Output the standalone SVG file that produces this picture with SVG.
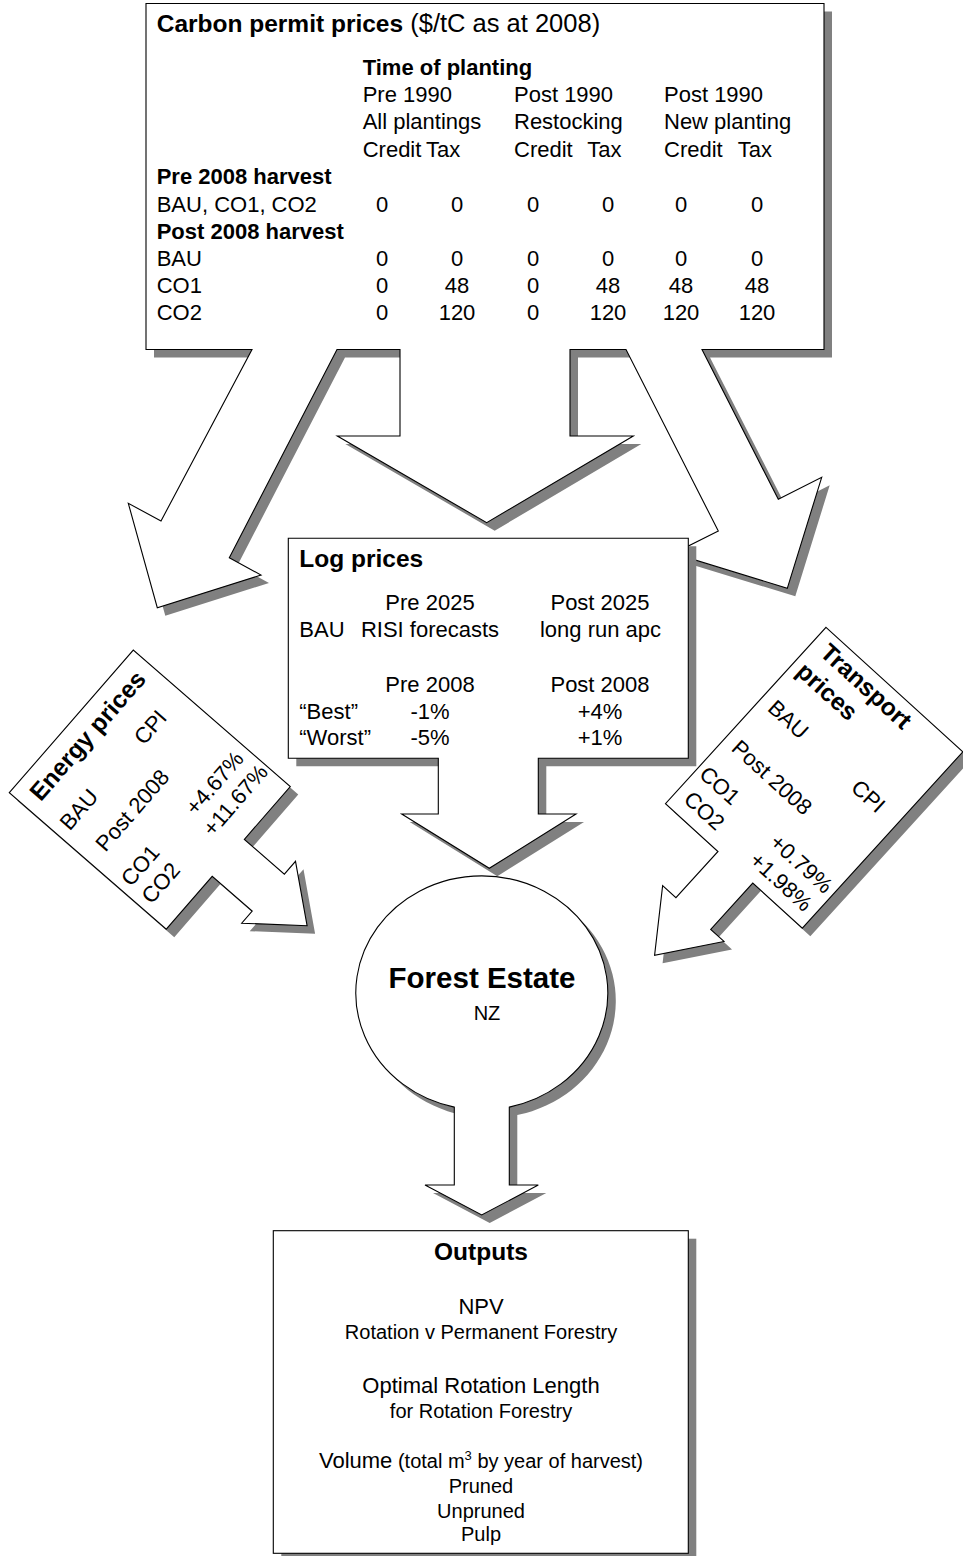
<svg xmlns="http://www.w3.org/2000/svg" width="963" height="1556" viewBox="0 0 963 1556">
<defs>
<style>
.sh{fill:#808080;stroke:none}
.bx{fill:#fff;stroke:#000;stroke-width:1.1;stroke-linejoin:miter}
text{font-family:"Liberation Sans",Arial,Helvetica,sans-serif;fill:#000;font-size:22px}
.h{font-size:24.5px;font-weight:bold}
.fe{font-size:29.5px;font-weight:bold}
.b{font-weight:bold}
.m{text-anchor:middle}
.s{font-size:20px}
</style>
<path id="carbonShape" d="M146,3.5 H824 V349.5 H702 L778.3,499.3 L821.7,477.3 L787.3,588.3 L673.5,553.4 L718.3,531 L626,349.5 H570 V436 H633.3 L486.7,522.7 L337.3,436 H400 V349.5 H337 L229.3,557.7 L261,575 L157.3,607.7 L128.3,503.3 L161,521 L252,349.5 H146 Z"/>
<path id="energyShape" d="M0,0 H189 V208 H119 V261 H136 L95,312 L54,261 H70 V208 H0 Z"/>
<path id="transportShape" d="M0,0 H185 V238.5 H118 V301 H136 L94,358 L53,301 H71 V238.5 H0 Z"/>
<path id="logShape" d="M288.3,538.3 H688.3 V758.3 H538.3 V814 H576 L489.3,868.3 L401.7,814 H438.3 V758.3 H288.3 Z"/>
<path id="forestShape" d="M454.3,1107.1 A126,117 0 1 1 509.3,1107.1 V1185 H538.3 L481.7,1215 L425,1185 H454.3 Z"/>
</defs>

<g id="carbon">
<use href="#carbonShape" class="sh" transform="translate(8,8)"/>
<use href="#carbonShape" class="bx"/>
<text x="156.7" y="32"><tspan class="h">Carbon permit prices</tspan><tspan font-size="25.5"> ($/tC as at 2008)</tspan></text>
<text x="362.7" y="75" class="b">Time of planting</text>
<text x="362.7" y="102">Pre 1990</text>
<text x="514" y="102">Post 1990</text>
<text x="664" y="102">Post 1990</text>
<text x="362.7" y="129">All plantings</text>
<text x="514" y="129">Restocking</text>
<text x="664" y="129">New planting</text>
<text x="362.7" y="157">Credit</text>
<text x="426" y="157">Tax</text>
<text x="514" y="157">Credit</text>
<text x="587.3" y="157">Tax</text>
<text x="664" y="157">Credit</text>
<text x="737.7" y="157">Tax</text>
<text x="156.7" y="184" class="b">Pre 2008 harvest</text>
<text x="156.7" y="212">BAU, CO1, CO2</text>
<text x="382" y="212" class="m">0</text>
<text x="457" y="212" class="m">0</text>
<text x="533" y="212" class="m">0</text>
<text x="608" y="212" class="m">0</text>
<text x="681" y="212" class="m">0</text>
<text x="757" y="212" class="m">0</text>
<text x="156.7" y="239" class="b">Post 2008 harvest</text>
<text x="156.7" y="266">BAU</text>
<text x="382" y="266" class="m">0</text>
<text x="457" y="266" class="m">0</text>
<text x="533" y="266" class="m">0</text>
<text x="608" y="266" class="m">0</text>
<text x="681" y="266" class="m">0</text>
<text x="757" y="266" class="m">0</text>
<text x="156.7" y="293">CO1</text>
<text x="382" y="293" class="m">0</text>
<text x="457" y="293" class="m">48</text>
<text x="533" y="293" class="m">0</text>
<text x="608" y="293" class="m">48</text>
<text x="681" y="293" class="m">48</text>
<text x="757" y="293" class="m">48</text>
<text x="156.7" y="320">CO2</text>
<text x="382" y="320" class="m">0</text>
<text x="457" y="320" class="m">120</text>
<text x="533" y="320" class="m">0</text>
<text x="608" y="320" class="m">120</text>
<text x="681" y="320" class="m">120</text>
<text x="757" y="320" class="m">120</text>
</g>

<g id="energy">
<use href="#energyShape" class="sh" transform="translate(17.3,800.7) rotate(-49)"/>
<g transform="translate(9.3,792.7) rotate(-49)">
<use href="#energyShape" class="bx"/>
<text x="94.5" y="30" class="h m">Energy prices</text>
<text x="33" y="71" class="m">BAU</text>
<text x="142" y="71" class="m">CPI</text>
<text x="67.5" y="112" class="m">Post 2008</text>
<text x="31" y="154" class="m">CO1</text>
<text x="142" y="156" class="m">+4.67%</text>
<text x="31.3" y="181" class="m">CO2</text>
<text x="142.5" y="183" class="m">+11.67%</text>
</g>
</g>

<g id="transport">
<use href="#transportShape" class="sh" transform="translate(834,635.3) rotate(42.3)"/>
<g transform="translate(826,627.3) rotate(42.3)">
<use href="#transportShape" class="bx"/>
<text x="13" y="25" class="h">Transport</text>
<text x="8" y="55" class="h">prices</text>
<text x="34" y="101" class="m">BAU</text>
<text x="145" y="104" class="m">CPI</text>
<text x="61" y="155" class="m">Post 2008</text>
<text x="28" y="196" class="m">CO1</text>
<text x="141" y="199" class="m">+0.79%</text>
<text x="33.5" y="225" class="m">CO2</text>
<text x="138" y="226" class="m">+1.98%</text>
</g>
</g>

<g id="log-prices">
<use href="#logShape" class="sh" transform="translate(8,8)"/>
<use href="#logShape" class="bx"/>
<text x="299.3" y="567" class="h">Log prices</text>
<text x="430" y="610" class="m">Pre 2025</text>
<text x="600" y="610" class="m">Post 2025</text>
<text x="299.3" y="637">BAU</text>
<text x="430" y="637" class="m">RISI forecasts</text>
<text x="600.5" y="637" class="m">long run apc</text>
<text x="430" y="692" class="m">Pre 2008</text>
<text x="600" y="692" class="m">Post 2008</text>
<text x="299.3" y="718.5">“Best”</text>
<text x="430" y="718.5" class="m">-1%</text>
<text x="600" y="718.5" class="m">+4%</text>
<text x="299.3" y="745">“Worst”</text>
<text x="430" y="745" class="m">-5%</text>
<text x="600" y="745" class="m">+1%</text>
</g>

<g id="forest-estate">
<use href="#forestShape" class="sh" transform="translate(8,8)"/>
<use href="#forestShape" class="bx"/>
<text x="482" y="988" class="m fe">Forest Estate</text>
<text x="487" y="1020" class="m s">NZ</text>
</g>

<g id="outputs">
<rect x="281.3" y="1238.7" width="415" height="322.6" class="sh"/>
<rect x="273.3" y="1230.7" width="415" height="322.6" class="bx"/>
<text x="481" y="1260" class="h m">Outputs</text>
<text x="481" y="1314" class="m">NPV</text>
<text x="481" y="1339" class="m s">Rotation v Permanent Forestry</text>
<text x="481" y="1392.7" class="m">Optimal Rotation Length</text>
<text x="481" y="1418" class="m s">for Rotation Forestry</text>
<text x="481" y="1468" class="m">Volume<tspan font-size="20"> (total m</tspan><tspan font-size="13" dy="-8">3</tspan><tspan font-size="20" dy="8"> by year of harvest)</tspan></text>
<text x="481" y="1493.3" class="m s">Pruned</text>
<text x="481" y="1517.7" class="m s">Unpruned</text>
<text x="481" y="1541" class="m s">Pulp</text>
</g>

<g id="connectors"></g>
</svg>
